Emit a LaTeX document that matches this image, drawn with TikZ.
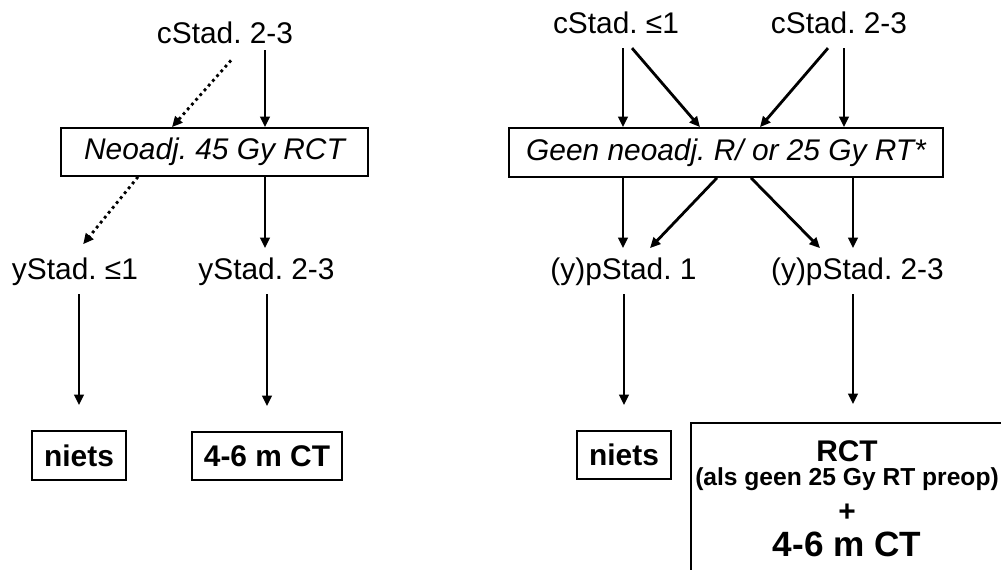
\documentclass[tikz,border=0pt]{standalone}
\usepackage{fontspec}
\setmainfont{Liberation Sans}
\usetikzlibrary{arrows.meta}

\begin{document}
\frenchspacing
\begin{tikzpicture}[
    box/.style={rectangle, draw, line width=1pt, inner sep=0pt, align=center, font=\fontsize{17}{20}\selectfont},
    stadlabel/.style={inner xsep=0pt, inner ysep=5pt, text height=12.4pt, text depth=3.4pt, anchor=base, font=\fontsize{17}{20}\selectfont},
    arrow/.style={-{Triangle[length=2.1mm, width=1.9mm]}, line width=1.6pt},
    dotarrow/.style={arrow, dash pattern=on 1.6pt off 2pt}
]

\clip (0,0) rectangle (20.02,-11.4);

% Left: cStad. 2-3
\node[stadlabel] (cstad) at (4.5,-0.86) {cStad. 2-3};
\node[box, minimum width=6.14cm, minimum height=0.96cm, font=\fontsize{17}{20}\selectfont\itshape] (neoadj) at (4.29,-3.04) {Neoadj. 45 Gy RCT};

\node[stadlabel] (ylow) at (1.5,-5.58) {yStad. ≤1};
\node[stadlabel] (yhigh) at (5.33,-5.58) {yStad. 2-3};

\node[box, minimum width=1.88cm, minimum height=0.98cm, font=\fontsize{17}{20}\selectfont\bfseries] (nietsL) at (1.58,-9.11) {niets};
\node[box, minimum width=3cm, minimum height=0.96cm, font=\fontsize{17}{20}\selectfont\bfseries] (ct) at (5.34,-9.12) {4-6 m CT};

\draw[arrow, shorten <=-1.6mm] (cstad.south -| 5.3,0) -- (neoadj.north -| 5.3,0);
\draw[dotarrow, shorten <=0.6mm] (cstad.south -| 4.66,0) -- (neoadj.north -| 3.44,0);
\draw[arrow] (neoadj.south -| 5.3,0) -- (yhigh.north -| 5.3,0);
\draw[dotarrow, shorten >=1mm] (neoadj.south -| 2.76,0) -- (ylow.north -| 1.6,0);
\draw[arrow, shorten >=5mm] (ylow.south -| nietsL.north) -- (nietsL.north);
\draw[arrow, shorten >=5mm] (yhigh.south -| ct.north) -- (ct.north);

% Right: cStad. <=1 and cStad. 2-3
\node[stadlabel] (clow) at (12.32,-0.66) {cStad. ≤1};
\node[stadlabel] (chigh) at (16.78,-0.66) {cStad. 2-3};
\node[box, minimum width=8.68cm, minimum height=0.98cm, font=\fontsize{17}{20}\selectfont\itshape] (geen) at (14.52,-3.05) {Geen neoadj. R/ or 25 Gy RT*};

\node[stadlabel] (plow) at (12.47,-5.58) {(y)pStad. 1};
\node[stadlabel] (phigh) at (17.15,-5.58) {(y)pStad. 2-3};

\node[box, minimum width=1.88cm, minimum height=0.96cm, font=\fontsize{17}{20}\selectfont\bfseries] (nietsR) at (12.48,-9.1) {niets};
\node[box, minimum width=6.24cm, minimum height=3.02cm, font=\fontsize{17}{20}\selectfont\bfseries] (rct) at (16.94,-9.97) {RCT\\[-6.3pt]{\fontsize{14}{16}\selectfont (als geen 25 Gy RT preop)}\\[0.5pt]+\\{\fontsize{20}{24}\selectfont 4-6 m CT}};

\draw[arrow] (clow.south -| 12.46,0) -- (geen.north -| 12.46,0);
\draw[arrow] (clow.south -| 12.64,0) -- (geen.north -| 14.0,0);
\draw[arrow] (chigh.south -| 16.56,0) -- (geen.north -| 15.2,0);
\draw[arrow] (chigh.south -| 16.88,0) -- (geen.north -| 16.88,0);

\draw[arrow] (geen.south -| 12.46,0) -- (plow.north -| 12.46,0);
\draw[arrow] (geen.south -| 14.34,0) -- (plow.north -| 13.0,0);
\draw[arrow] (geen.south -| 15.02,0) -- (phigh.north -| 16.4,0);
\draw[arrow] (geen.south -| 17.06,0) -- (phigh.north -| 17.06,0);

\draw[arrow, shorten >=5mm] (plow.south -| nietsR.north) -- (nietsR.north);
\draw[arrow, shorten >=3.6mm] (phigh.south -| 17.06,0) -- (rct.north -| 17.06,0);

\end{tikzpicture}
\end{document}
